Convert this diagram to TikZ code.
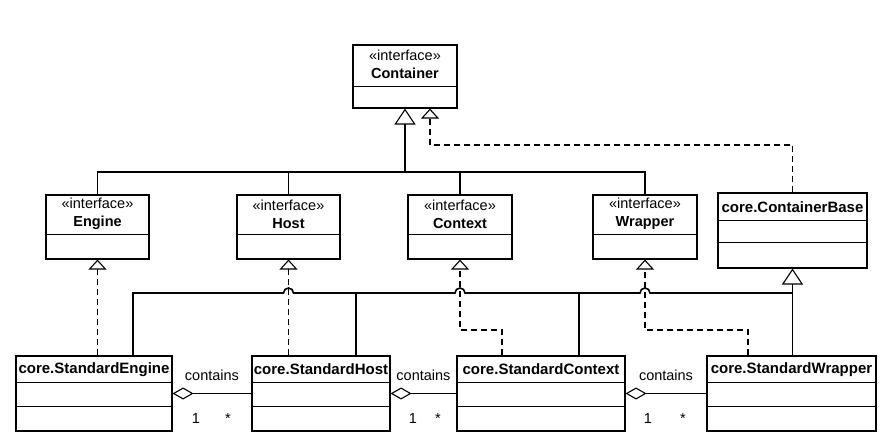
\documentclass[tikz,border=0pt]{standalone}
\usepackage{fontspec}
\setmainfont{Liberation Sans}
\usetikzlibrary{arrows.meta,calc}
\begin{document}
\begin{tikzpicture}[x=1pt,y=-1pt,
  box/.style={draw, line width=1.1pt, inner sep=0pt, fill=white},
  ttl/.style={font=\fontsize{14.5}{18}\selectfont, align=center, inner sep=0pt},
  cls/.style={font=\fontsize{15}{18}\selectfont\bfseries, inner sep=0pt},
  lbl/.style={font=\fontsize{14.5}{17}\selectfont, inner sep=0pt, anchor=base},
  ln/.style={line width=1.1pt},
  thk/.style={line width=1.6pt},
  real/.style={line width=1.1pt, dash pattern=on 6pt off 4pt, -{Triangle[open,length=10pt,width=18pt,line width=1.1pt]}},
  gen/.style={line width=1.8pt, -{Triangle[open,length=16pt,width=21pt,line width=1.1pt]}},
  agg/.style={line width=1.1pt, -{Diamond[open,length=21pt,width=12pt,line width=1.1pt]}}
]
\useasboundingbox (0,0) rectangle (887,444);

% interface boxes
\node[box, minimum width=104pt, minimum height=63pt] (cont) at (405,76.5) {};
\draw[ln] ($(cont.north west)+(0,42)$) -- ($(cont.north east)+(0,42)$);
\node[ttl] (contT) at (405,64.5) {«interface»\\\textbf{Container}};

\node[box, minimum width=103pt, minimum height=64pt] (eng) at (97.5,227) {};
\draw[ln] ($(eng.north west)+(0,40)$) -- ($(eng.north east)+(0,40)$);
\node[ttl] (engT) at (97.5,214) {«interface»\\\textbf{Engine}};

\node[box, minimum width=103pt, minimum height=64pt] (host) at (288.5,227) {};
\draw[ln] ($(host.north west)+(0,40)$) -- ($(host.north east)+(0,40)$);
\node[ttl] (hostT) at (288.5,214) {«interface»\\\textbf{Host}};

\node[box, minimum width=104pt, minimum height=64pt] (ctx) at (460,227) {};
\draw[ln] ($(ctx.north west)+(0,40)$) -- ($(ctx.north east)+(0,40)$);
\node[ttl] (ctxT) at (460,214) {«interface»\\\textbf{Context}};

\node[box, minimum width=104pt, minimum height=64pt] (wrp) at (645,227) {};
\draw[ln] ($(wrp.north west)+(0,40)$) -- ($(wrp.north east)+(0,40)$);
\node[ttl] (wrpT) at (645,214) {«interface»\\\textbf{Wrapper}};

% ContainerBase
\node[box, minimum width=149pt, minimum height=75pt] (cb) at (792.5,230.5) {};
\draw[ln] ($(cb.north west)+(0,28)$) -- ($(cb.north east)+(0,28)$);
\draw[ln] ($(cb.north west)+(0,50)$) -- ($(cb.north east)+(0,50)$);
\node[cls] (cbT) at (792.5,207) {core.ContainerBase};

% standard classes
\node[box, minimum width=156pt, minimum height=75pt] (se) at (94,393.5) {};
\draw[ln] ($(se.north west)+(0,27)$) -- ($(se.north east)+(0,27)$);
\draw[ln] ($(se.north west)+(0,51)$) -- ($(se.north east)+(0,51)$);
\node[cls] (seT) at (94,369.5) {core.StandardEngine};

\node[box, minimum width=138pt, minimum height=75pt] (sh) at (321,393.5) {};
\draw[ln] ($(sh.north west)+(0,27)$) -- ($(sh.north east)+(0,27)$);
\draw[ln] ($(sh.north west)+(0,51)$) -- ($(sh.north east)+(0,51)$);
\node[cls] (shT) at (321,369.5) {core.StandardHost};

\node[box, minimum width=168pt, minimum height=75pt] (sc) at (541,393.5) {};
\draw[ln] ($(sc.north west)+(0,27)$) -- ($(sc.north east)+(0,27)$);
\draw[ln] ($(sc.north west)+(0,51)$) -- ($(sc.north east)+(0,51)$);
\node[cls] (scT) at (541,369.5) {core.StandardContext};

\node[box, minimum width=169pt, minimum height=75pt] (sw) at (791.5,393.5) {};
\draw[ln] ($(sw.north west)+(0,27)$) -- ($(sw.north east)+(0,27)$);
\draw[ln] ($(sw.north west)+(0,51)$) -- ($(sw.north east)+(0,51)$);
\node[cls] (swT) at (791.5,369.5) {core.StandardWrapper};

% top generalization tree
\coordinate (j1) at (405,172);
\draw[ln] (eng.north) -- (eng.north |- j1) -- (wrp.north |- j1) -- (wrp.north);
\draw[ln] (host.north) -- (host.north |- j1);
\draw[ln] (ctx.north) -- (ctx.north |- j1);
\draw[gen] (j1) -- (cont.south);

% ContainerBase realizes Container
\coordinate (cr) at (430,145);
\draw[real] (cb.north) |- (cr) -- (cr |- cont.south);

% realizations of interfaces
\draw[real] (se.north -| eng.south) -- (eng.south);
\draw[real] (sh.north -| host.south) -- (host.south);
\coordinate (sck) at (502,330);
\draw[real] (sc.north -| sck) -- (sck) -| (ctx.south);
\coordinate (swk) at (748,330);
\draw[real] (sw.north -| swk) -- (swk) -| (wrp.south);

% bottom generalization tree
\coordinate (hl) at (133,293);
\coordinate (hr) at (792.5,293);
\coordinate (vh) at (356,293);
\coordinate (vc) at (579,293);
\draw[thk] (se.north -| hl) -- (hl)
  -- ($(hl -| host.south)+(-5,0)$) arc[start angle=180,end angle=0,radius=5pt]
  -- ($(hl -| ctx.south)+(-5,0)$) arc[start angle=180,end angle=0,radius=5pt]
  -- ($(hl -| wrp.south)+(-5,0)$) arc[start angle=180,end angle=0,radius=5pt]
  -- (hr);
\draw[thk] (vh) -- (vh |- sh.north);
\draw[thk] (vc) -- (vc |- sc.north);
\draw[gen] (sw.north -| cb.south) -- (cb.south);

% aggregations
\draw[agg] (sh.west) -- (se.east);
\draw[agg] (sc.west) -- (sh.east);
\draw[agg] (sw.west) -- (sc.east);

\node[lbl] (c1) at (212,380) {contains};
\node[lbl] (c2) at (423.5,380) {contains};
\node[lbl] (c3) at (666,380) {contains};
\node[lbl] (o1) at (196,423) {1};
\node[lbl] (o2) at (413,423) {1};
\node[lbl] (o3) at (648,423) {1};
\node[lbl] (m1) at (228,423) {*};
\node[lbl] (m2) at (438,423) {*};
\node[lbl] (m3) at (683,423) {*};
\end{tikzpicture}
\end{document}
